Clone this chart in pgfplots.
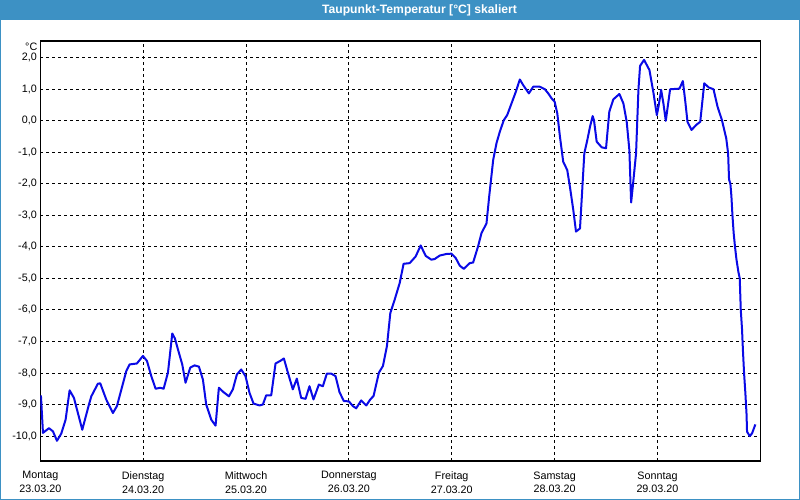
\documentclass[border=0pt]{standalone}
\usepackage{pgfplots}
\pgfplotsset{compat=1.18}
\usepackage{fontspec}
\setmainfont{Liberation Sans}
\definecolor{barblue}{RGB}{61,145,196}
\definecolor{curveblue}{RGB}{10,10,230}
\begin{document}
\begin{tikzpicture}[x=1bp,y=1bp]
\path[use as bounding box] (0,0) rectangle (800,500);
\fill[white] (0,0) rectangle (800,500);
\fill[barblue] (0,480) rectangle (800,500);
\draw[barblue, line width=1.2bp] (0.6,0.6) rectangle (799.4,499.4);
\node[font=\bfseries\fontsize{12.2}{14}\selectfont, text=white] at (419.5,490) {Taupunkt-Temperatur [°C] skaliert};
\begin{axis}[
  scale only axis, width=720bp, height=420bp,
  at={(40.3bp,39bp)}, anchor=south west,
  xmin=0, xmax=7, ymin=-10.79, ymax=2.52,
  xtick={0,1,2,3,4,5,6},
  xticklabels={{Montag\\23.03.20},{Dienstag\\24.03.20},{Mittwoch\\25.03.20},{Donnerstag\\26.03.20},{Freitag\\27.03.20},{Samstag\\28.03.20},{Sonntag\\29.03.20}},
  xticklabel style={align=center, font=\fontsize{10.8}{14}\selectfont, yshift=-7bp},
  ytick={-10,-9,-8,-7,-6,-5,-4,-3,-2,-1,0,1,2},
  yticklabels={{-10,0},{-9,0},{-8,0},{-7,0},{-6,0},{-5,0},{-4,0},{-3,0},{-2,0},{-1,0},{0,0},{1,0},{2,0}},
  yticklabel style={font=\fontsize{10.8}{13}\selectfont},
  grid=major,
  major grid style={black, dash pattern=on 3bp off 3bp, line width=0.9bp},
  major tick length=0pt,
  axis line style={black, line width=1.3bp},
  clip=true,
]
\addplot[curveblue, line width=2bp, line join=round, mark=none] coordinates {
(0.006,-8.71) (0.026,-9.90) (0.084,-9.75) (0.123,-9.85) (0.162,-10.15) (0.204,-9.92)
(0.246,-9.48) (0.285,-8.55) (0.327,-8.79) (0.408,-9.80) (0.473,-9.00) (0.496,-8.74)
(0.560,-8.34) (0.583,-8.33) (0.641,-8.84) (0.706,-9.27) (0.745,-9.05) (0.836,-7.94)
(0.868,-7.73) (0.939,-7.70) (0.998,-7.46) (1.037,-7.62) (1.079,-8.10) (1.121,-8.50)
(1.166,-8.47) (1.199,-8.50) (1.241,-7.99) (1.283,-6.75) (1.309,-6.91) (1.338,-7.25)
(1.380,-7.73) (1.412,-8.31) (1.458,-7.83) (1.500,-7.76) (1.542,-7.80) (1.581,-8.21)
(1.613,-9.00) (1.662,-9.48) (1.704,-9.67) (1.736,-8.47) (1.782,-8.61) (1.834,-8.74)
(1.872,-8.52) (1.911,-8.05) (1.953,-7.89) (1.995,-8.10) (2.034,-8.63) (2.073,-8.97)
(2.132,-9.03) (2.164,-9.00) (2.196,-8.71) (2.245,-8.71) (2.287,-7.70) (2.332,-7.62)
(2.368,-7.54) (2.407,-7.99) (2.455,-8.52) (2.494,-8.18) (2.536,-8.79) (2.579,-8.82)
(2.617,-8.42) (2.656,-8.84) (2.708,-8.37) (2.747,-8.42) (2.786,-8.02) (2.828,-8.02)
(2.870,-8.10) (2.909,-8.61) (2.951,-8.89) (3.000,-8.90) (3.039,-9.05) (3.071,-9.12)
(3.120,-8.87) (3.169,-9.03) (3.208,-8.84) (3.240,-8.73) (3.292,-7.99) (3.331,-7.78)
(3.370,-7.15) (3.403,-6.10) (3.445,-5.68) (3.494,-5.15) (3.532,-4.54) (3.591,-4.52)
(3.649,-4.31) (3.698,-3.96) (3.747,-4.29) (3.802,-4.41) (3.834,-4.39) (3.883,-4.28)
(3.948,-4.23) (3.997,-4.22) (4.039,-4.36) (4.078,-4.60) (4.117,-4.70) (4.175,-4.52)
(4.208,-4.50) (4.256,-3.99) (4.289,-3.57) (4.338,-3.26) (4.364,-2.41) (4.403,-1.25)
(4.435,-0.72) (4.468,-0.35) (4.506,0.01) (4.539,0.17) (4.581,0.54) (4.623,0.91)
(4.662,1.30) (4.695,1.12) (4.750,0.86) (4.792,1.07) (4.857,1.07) (4.906,0.99)
(4.938,0.86) (4.971,0.70) (5.000,0.60) (5.026,0.23) (5.052,-0.51) (5.084,-1.31)
(5.123,-1.57) (5.149,-2.10) (5.182,-2.84) (5.208,-3.52) (5.247,-3.42) (5.263,-2.52)
(5.289,-1.04) (5.318,-0.62) (5.344,-0.20) (5.370,0.14) (5.383,0.01) (5.409,-0.67)
(5.458,-0.85) (5.500,-0.88) (5.532,0.28) (5.571,0.67) (5.630,0.84) (5.669,0.54)
(5.701,-0.04) (5.727,-0.94) (5.744,-2.60) (5.760,-2.10) (5.792,-1.04) (5.815,0.97)
(5.831,1.73) (5.870,1.92) (5.922,1.60) (5.961,0.88) (5.994,0.17) (6.010,0.44)
(6.036,0.97) (6.058,0.54) (6.081,-0.01) (6.123,0.99) (6.214,1.01) (6.247,1.25)
(6.269,0.65) (6.292,-0.04) (6.331,-0.30) (6.377,-0.14) (6.416,-0.04) (6.455,1.18)
(6.497,1.05) (6.545,0.99) (6.584,0.44) (6.627,0.01) (6.669,-0.57) (6.687,-1.04)
(6.696,-1.87) (6.709,-2.00) (6.719,-2.40) (6.729,-3.00) (6.741,-3.57) (6.754,-4.00)
(6.768,-4.40) (6.787,-4.80) (6.800,-5.00) (6.810,-6.00) (6.822,-6.60) (6.832,-7.35)
(6.842,-8.00) (6.855,-8.65) (6.866,-9.30) (6.871,-9.86) (6.897,-10.00) (6.919,-9.92)
(6.952,-9.63)
};
\end{axis}
\node[anchor=north east, inner sep=0pt, font=\fontsize{10.8}{13}\selectfont] at (37.5,457.5) {°C};
\end{tikzpicture}
\end{document}
